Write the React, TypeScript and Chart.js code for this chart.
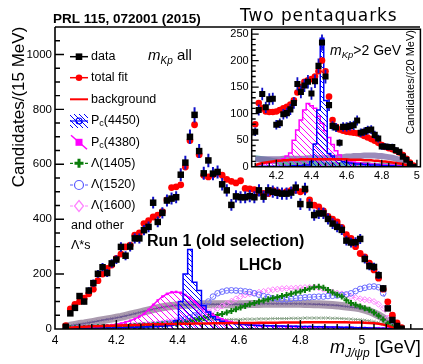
import React, { useEffect, useRef } from "react";
import { Chart, registerables } from "chart.js";
Chart.register(...registerables);

const FONT = "'Liberation Sans', Arial, Helvetica, sans-serif";

// ---------------- main plot (15 MeV bins) ----------------
const mainMass = [
  4.035, 4.05, 4.065, 4.08, 4.095, 4.11, 4.125, 4.14, 4.155, 4.17,
  4.185, 4.2, 4.215, 4.23, 4.245, 4.26, 4.275, 4.29, 4.305, 4.32,
  4.335, 4.35, 4.365, 4.38, 4.395, 4.41, 4.425, 4.44, 4.455, 4.47,
  4.485, 4.5, 4.515, 4.53, 4.545, 4.56, 4.575, 4.59, 4.605, 4.62,
  4.635, 4.65, 4.665, 4.68, 4.695, 4.71, 4.725, 4.74, 4.755, 4.77,
  4.785, 4.8, 4.815, 4.83, 4.845, 4.86, 4.875, 4.89, 4.905, 4.92,
  4.935, 4.95, 4.965, 4.98, 4.995, 5.01, 5.025, 5.04, 5.055, 5.07,
  5.085, 5.1, 5.115, 5.13,
];
const mainData = [
  8, 57, 77, 120, 100, 140, 167, 201, 225, 204,
  239, 253, 299, 267, 300, 330, 330, 360, 372, 460,
  390, 423, 468, 475, 480, 562, 606, 700, 780, 648,
  567, 614, 566, 572, 527, 505, 452, 483, 480, 480,
  484, 480, 505, 482, 505, 500, 496, 493, 493, 497,
  515, 455, 510, 452, 415, 421, 421, 401, 384, 372,
  361, 322, 315, 316, 328, 255, 229, 226, 196, 148,
  75, 33, 11, 1,
];
const mainFit = [
  12, 73, 90, 100, 112, 128, 145, 176, 200, 221,
  233, 257, 273, 299, 305, 342, 350, 384, 395, 408,
  415, 427, 470, 515, 518, 525, 590, 687, 744, 635,
  560, 554, 562, 568, 560, 545, 538, 532, 540, 512,
  510, 508, 496, 494, 493, 505, 500, 496, 500, 505,
  505, 500, 505, 470, 451, 445, 430, 410, 400, 390,
  370, 344, 330, 300, 275, 263, 240, 215, 185, 145,
  99, 50, 22, 5,
];
const mainPc4450 = [
  2, 2, 2, 3, 3, 3, 3, 4, 4, 4,
  4, 5, 5, 5, 6, 6, 7, 7, 8, 9,
  10, 11, 12, 14, 30, 100, 200, 290, 170, 140,
  85, 62, 45, 35, 28, 24, 21, 19, 17, 16,
  15, 14, 13, 13, 12, 12, 11, 11, 10, 10,
  10, 9, 9, 9, 8, 8, 8, 7, 7, 7,
  6, 6, 6, 5, 5, 5, 4, 4, 3, 3,
  2, 1, 0, 0,
];
const mainPc4380 = [
  3, 3, 4, 4, 5, 6, 7, 8, 10, 12,
  14, 17, 20, 25, 30, 37, 45, 55, 70, 88,
  104, 118, 128, 134, 135, 132, 124, 113, 100, 87,
  74, 62, 52, 43, 36, 30, 26, 22, 19, 17,
  15, 14, 13, 12, 11, 11, 10, 10, 9, 9,
  9, 8, 8, 8, 7, 7, 7, 6, 6, 6,
  5, 5, 5, 4, 4, 4, 3, 3, 3, 2,
  2, 1, 0, 0,
];
const mainL1405 = [
  2, 3, 3, 4, 4, 5, 5, 6, 6, 7,
  7, 8, 8, 9, 10, 10, 11, 12, 13, 14,
  15, 16, 17, 18, 20, 22, 25, 28, 32, 36,
  40, 44, 47, 51, 55, 60, 66, 72, 78, 84,
  90, 95, 100, 104, 108, 112, 116, 120, 124, 128,
  133, 137, 142, 147, 152, 154, 150, 142, 133, 125,
  118, 105, 95, 88, 82, 76, 70, 60, 48, 35,
  20, 8, 2, 0,
];
const mainL1520 = [
  2, 2, 3, 3, 4, 4, 5, 5, 6, 6,
  7, 7, 8, 8, 9, 10, 11, 12, 13, 14,
  16, 18, 20, 22, 25, 30, 36, 42, 50, 60,
  80, 100, 118, 130, 136, 140, 141, 140, 139, 137,
  135, 130, 125, 120, 116, 112, 110, 108, 108, 110,
  112, 113, 115, 116, 117, 118, 118, 120, 121, 122,
  124, 126, 130, 138, 146, 150, 154, 155, 152, 130,
  80, 30, 5, 0,
];
const mainL1600 = [
  2, 2, 3, 3, 4, 4, 5, 5, 6, 7,
  7, 8, 9, 10, 11, 12, 13, 14, 16, 18,
  20, 22, 25, 28, 31, 35, 39, 43, 47, 52,
  57, 62, 68, 75, 84, 93, 101, 110, 118, 124,
  128, 131, 134, 137, 140, 143, 145, 147, 148, 148,
  149, 150, 151, 152, 153, 150, 145, 140, 135, 131,
  128, 124, 118, 114, 110, 107, 105, 100, 90, 75,
  40, 10, 1, 0,
];
const mainOtherBand = [
  8, 12, 15, 18, 20, 23, 26, 29, 32, 35,
  38, 41, 44, 48, 52, 56, 60, 64, 68, 72,
  76, 79, 82, 84, 86, 87, 88, 88, 89, 89,
  90, 90, 90, 90, 90, 90, 90, 90, 90, 90,
  91, 91, 91, 92, 92, 92, 92, 92, 92, 92,
  92, 92, 91, 91, 90, 90, 89, 88, 87, 86,
  84, 82, 80, 78, 75, 70, 65, 58, 50, 40,
  28, 12, 3, 0,
];
const mainOtherLow = [
  3, 4, 5, 6, 7, 8, 9, 10, 11, 12,
  13, 14, 15, 16, 17, 18, 19, 20, 21, 22,
  23, 24, 25, 26, 27, 28, 29, 30, 31, 31,
  32, 32, 33, 33, 34, 34, 35, 35, 35, 36,
  36, 36, 37, 37, 37, 38, 38, 38, 38, 39,
  39, 39, 40, 40, 40, 40, 40, 40, 39, 39,
  38, 37, 36, 35, 34, 32, 30, 27, 23, 18,
  12, 5, 1, 0,
];
const mainBackground = [
  3, 5, 6, 7, 8, 9, 10, 10, 11, 12,
  12, 13, 13, 14, 14, 15, 15, 16, 16, 17,
  17, 17, 18, 18, 18, 19, 19, 19, 20, 20,
  20, 20, 21, 21, 21, 21, 22, 22, 22, 22,
  22, 22, 23, 23, 23, 23, 23, 24, 24, 24,
  24, 24, 25, 25, 25, 25, 25, 25, 25, 25,
  25, 25, 24, 24, 24, 23, 22, 21, 19, 16,
  12, 6, 2, 0,
];
const mainXTicks = [4, 4.2, 4.4, 4.6, 4.8, 5];
const mainYTicks = [0, 200, 400, 600, 800, 1000];

// ---------------- inset (20 MeV bins, m_Kp > 2 GeV) ----------------
const insetMass = [
  4.08, 4.1, 4.12, 4.14, 4.16, 4.18, 4.2, 4.22, 4.24, 4.26,
  4.28, 4.3, 4.32, 4.34, 4.36, 4.38, 4.4, 4.42, 4.44, 4.46,
  4.48, 4.5, 4.52, 4.54, 4.56, 4.58, 4.6, 4.62, 4.64, 4.66,
  4.68, 4.7, 4.72, 4.74, 4.76, 4.78, 4.8, 4.82, 4.84, 4.86,
  4.88, 4.9, 4.92, 4.94, 4.96, 4.98,
];
const insetData = [
  66, 107, 137, 112, 127, 128, 79, 82, 99, 101,
  108, 120, 156, 141, 153, 160, 138, 161, 190, 234,
  170, 116, 77, 74, 45, 75, 75, 77, 78, 87,
  64, 66, 69, 70, 60, 53, 38, 38, 37, 37,
  31, 28, 19, 13, 5, 0,
];
const insetFit = [
  80, 120, 110, 104, 103, 103, 104, 107, 110, 113,
  117, 125, 140, 150, 160, 163, 165, 170, 180, 200,
  180, 132, 88, 75, 70, 68, 66, 65, 64, 63,
  61, 58, 55, 52, 49, 45, 41, 37, 35, 33,
  30, 27, 22, 15, 8, 2,
];
const insetPc4450 = [
  1, 1, 1, 1, 1, 1, 1, 1, 1, 1,
  1, 2, 2, 2, 3, 3, 10, 43, 107, 242,
  125, 25, 20, 15, 12, 10, 8, 7, 6, 5,
  5, 4, 4, 3, 3, 3, 2, 2, 2, 2,
  1, 1, 1, 1, 0, 0,
];
const insetPc4380 = [
  3, 4, 5, 6, 7, 8, 10, 12, 15, 20,
  26, 50, 69, 88, 107, 119, 115, 110, 95, 82,
  68, 55, 42, 30, 22, 15, 12, 10, 9, 8,
  7, 6, 6, 5, 5, 4, 4, 3, 3, 3,
  2, 2, 1, 1, 0, 0,
];
const insetBackground = [
  3, 5, 7, 8, 9, 10, 11, 11, 12, 12,
  13, 13, 13, 14, 14, 14, 14, 14, 14, 14,
  14, 14, 14, 14, 14, 14, 14, 13, 13, 13,
  13, 12, 12, 12, 11, 11, 10, 10, 9, 8,
  7, 6, 5, 3, 1, 0,
];
const insetOtherBand = [
  14, 14, 14, 14, 14, 14, 14, 14, 15, 15,
  15, 15, 15, 15, 15, 16, 16, 16, 16, 16,
  16, 17, 17, 17, 18, 18, 19, 19, 20, 20,
  20, 21, 21, 21, 21, 20, 20, 19, 18, 17,
  15, 13, 10, 7, 3, 0,
];
const insetTeal = [
  16, 15, 14, 13, 12, 11, 10, 9, 8, 8,
  7, 7, 6, 6, 6, 5, 5, 5, 5, 4,
  4, 4, 4, 4, 3, 3, 3, 3, 3, 3,
  3, 3, 3, 2, 2, 2, 2, 2, 2, 2,
  1, 1, 1, 1, 0, 0,
];
const insetXTicks = [4.2, 4.4, 4.6, 4.8, 5];
const insetYTicks = [0, 50, 100, 150, 200, 250];

// ---------------- helpers ----------------
function pts(xs: number[], ys: number[]) {
  return xs.map((x, i) => ({ x, y: ys[i] }));
}

function makeHatch(color: string, size: number, width: number) {
  const c = document.createElement("canvas");
  c.width = size;
  c.height = size;
  const g = c.getContext("2d")!;
  g.strokeStyle = color;
  g.lineWidth = width;
  g.beginPath();
  for (let k = -1; k <= 1; k++) {
    g.moveTo(k * size, 0);
    g.lineTo(k * size + size, size);
  }
  g.stroke();
  return g.createPattern(c, "repeat")!;
}

type Part = { t: string; f: string; dy?: number };
function drawRich(ctx: CanvasRenderingContext2D, x: number, y: number, parts: Part[]) {
  let cx = x;
  for (const p of parts) {
    ctx.font = p.f;
    ctx.fillText(p.t, cx, y + (p.dy || 0));
    cx += ctx.measureText(p.t).width;
  }
}

function fmt(v: number) {
  return String(Math.round(v * 10) / 10);
}

function range(a: number, b: number, s: number) {
  const out: number[] = [];
  for (let v = a; v <= b + 1e-9; v += s) out.push(Math.round(v * 1000) / 1000);
  return out;
}

function axesPlugin(id: string, o: {
  xMinor: number[]; xMajor: number[]; yMinor: number[]; yMajor: number[];
  major: number; minor: number; box: boolean; lw: number; topTo?: number;
}) {
  return {
    id,
    afterDraw(chart: any) {
      const { ctx, chartArea: a, scales } = chart;
      const x = scales.x, y = scales.y;
      ctx.save();
      ctx.strokeStyle = "#000";
      ctx.lineWidth = o.lw;
      ctx.beginPath();
      ctx.moveTo(a.left, a.top);
      ctx.lineTo(a.left, a.bottom);
      ctx.lineTo(a.right + (o.box ? 0 : 3), a.bottom);
      if (o.box) {
        ctx.lineTo(a.right, a.top);
        ctx.closePath();
      } else {
        ctx.moveTo(a.left, a.top);
        ctx.lineTo(o.topTo ?? a.right, a.top);
      }
      ctx.stroke();
      ctx.lineWidth = o.lw * 0.9;
      ctx.beginPath();
      for (const v of o.xMinor) {
        const px = x.getPixelForValue(v);
        if (px < a.left + 1 || px > a.right - 1) continue;
        const len = o.xMajor.some((m) => Math.abs(m - v) < 1e-6) ? o.major : o.minor;
        ctx.moveTo(px, a.bottom);
        ctx.lineTo(px, a.bottom - len);
      }
      for (const v of o.yMinor) {
        const py = y.getPixelForValue(v);
        if (py < a.top + 1 || py > a.bottom - 1) continue;
        const len = o.yMajor.some((m) => Math.abs(m - v) < 1e-6) ? o.major : o.minor;
        ctx.moveTo(a.left, py);
        ctx.lineTo(a.left + len, py);
      }
      ctx.stroke();
      ctx.restore();
    },
  };
}

function errorBarPlugin(id: string, values: number[], color: string, width: number) {
  return {
    id,
    beforeDatasetDraw(chart: any, args: any) {
      if (args.index !== 0) return;
      const { ctx, chartArea: a } = chart;
      const meta = chart.getDatasetMeta(0);
      const y = chart.scales.y;
      ctx.save();
      ctx.beginPath();
      ctx.rect(a.left, a.top, a.right - a.left, a.bottom - a.top);
      ctx.clip();
      ctx.strokeStyle = color;
      ctx.lineWidth = width;
      ctx.beginPath();
      meta.data.forEach((el: any, i: number) => {
        const v = values[i];
        const e = Math.sqrt(Math.max(v, 1));
        ctx.moveTo(el.x, y.getPixelForValue(v + e));
        ctx.lineTo(el.x, y.getPixelForValue(Math.max(v - e, 0)));
      });
      ctx.stroke();
      ctx.restore();
    },
  };
}

function mainConfig(): any {
  const blueHatch = makeHatch("#0000ff", 5, 1);
  const magHatch = makeHatch("#ff00ff", 6, 1);
  const textPlugin = {
    id: "mainText",
    afterDraw(chart: any) {
      const ctx: CanvasRenderingContext2D = chart.ctx;
      ctx.save();
      ctx.fillStyle = "#000";
      ctx.textBaseline = "alphabetic";
      ctx.textAlign = "left";
      ctx.font = `bold 13.5px ${FONT}`;
      ctx.fillText("PRL 115, 072001 (2015)", 53, 22.5);
      ctx.font = `17px 'DejaVu Sans', sans-serif`;
      (ctx as any).letterSpacing = "0.9px";
      ctx.fillText("Two pentaquarks", 240, 21);
      (ctx as any).letterSpacing = "0px";
      // m_Kp all
      drawRich(ctx, 148, 60, [
        { t: "m", f: `italic 15px ${FONT}` },
        { t: "Kp", f: `italic 10px ${FONT}`, dy: 3.5 },
        { t: " all", f: `15px ${FONT}` },
      ]);
      ctx.font = `bold 16px ${FONT}`;
      ctx.fillText("Run 1 (old selection)", 147, 246);
      ctx.fillText("LHCb", 239, 270);
      // x title
      drawRich(ctx, 330, 353, [
        { t: "m", f: `italic 18px ${FONT}` },
        { t: "J/\u03c8p", f: `italic 12px ${FONT}`, dy: 4 },
        { t: " [GeV]", f: `18px ${FONT}` },
      ]);
      // y title
      ctx.save();
      ctx.translate(19, 107);
      ctx.rotate(-Math.PI / 2);
      ctx.textAlign = "center";
      ctx.textBaseline = "middle";
      ctx.font = `17px ${FONT}`;
      ctx.fillText("Candidates/(15 MeV)", 0, 0);
      ctx.restore();

      // legend
      const lf = `12.5px ${FONT}`;
      const rows = [56.7, 77.7, 99.3, 121, 142.3, 163.3, 185, 206];
      const x0 = 70, x1 = 88, xc = 79, tx = 91;
      ctx.textBaseline = "middle";
      // data
      ctx.strokeStyle = "#000"; ctx.lineWidth = 1.5;
      ctx.beginPath(); ctx.moveTo(x0, rows[0]); ctx.lineTo(x1, rows[0]); ctx.stroke();
      ctx.fillStyle = "#000"; ctx.fillRect(xc - 3.3, rows[0] - 3.3, 6.6, 6.6);
      // total fit
      ctx.strokeStyle = "#ff0000";
      ctx.beginPath(); ctx.moveTo(x0, rows[1]); ctx.lineTo(x1, rows[1]); ctx.stroke();
      ctx.fillStyle = "#ff0000"; ctx.beginPath(); ctx.arc(xc, rows[1], 3.3, 0, Math.PI * 2); ctx.fill();
      // background
      ctx.lineWidth = 2;
      ctx.beginPath(); ctx.moveTo(x0, rows[2]); ctx.lineTo(x1, rows[2]); ctx.stroke();
      // Pc(4450)
      ctx.fillStyle = blueHatch;
      ctx.fillRect(x0, rows[3] - 7, x1 - x0, 14);
      ctx.strokeStyle = "#0000ff"; ctx.lineWidth = 1.2;
      ctx.beginPath(); ctx.moveTo(x0, rows[3]); ctx.lineTo(x1, rows[3]); ctx.stroke();
      ctx.beginPath(); ctx.arc(xc, rows[3], 3, 0, Math.PI * 2); ctx.stroke();
      // Pc(4380)
      ctx.strokeStyle = "#ff00ff"; ctx.lineWidth = 1.5;
      ctx.beginPath(); ctx.moveTo(x0 + 1, rows[4] - 7); ctx.lineTo(x1 - 1, rows[4] + 7); ctx.stroke();
      ctx.fillStyle = "#ff00ff"; ctx.fillRect(xc - 3.5, rows[4] - 3.5, 7, 7);
      // L1405
      ctx.setLineDash([3, 2]);
      ctx.strokeStyle = "#0b7d0b"; ctx.lineWidth = 1.2;
      ctx.beginPath(); ctx.moveTo(x0, rows[5]); ctx.lineTo(x1, rows[5]); ctx.stroke();
      ctx.strokeStyle = "#5a5aff";
      ctx.beginPath(); ctx.moveTo(x0, rows[6]); ctx.lineTo(x1, rows[6]); ctx.stroke();
      ctx.strokeStyle = "#ff80ff";
      ctx.beginPath(); ctx.moveTo(x0, rows[7]); ctx.lineTo(x1, rows[7]); ctx.stroke();
      ctx.setLineDash([]);
      ctx.strokeStyle = "#0b7d0b"; ctx.lineWidth = 3;
      ctx.beginPath();
      ctx.moveTo(xc - 4.5, rows[5]); ctx.lineTo(xc + 4.5, rows[5]);
      ctx.moveTo(xc, rows[5] - 4.5); ctx.lineTo(xc, rows[5] + 4.5);
      ctx.stroke();
      ctx.lineWidth = 1.2;
      ctx.fillStyle = "#fff";
      ctx.strokeStyle = "#5a5aff";
      ctx.beginPath(); ctx.arc(xc, rows[6], 4.5, 0, Math.PI * 2); ctx.fill(); ctx.stroke();
      ctx.strokeStyle = "#ff80ff";
      ctx.beginPath();
      ctx.moveTo(xc, rows[7] - 5.5); ctx.lineTo(xc + 4.5, rows[7]); ctx.lineTo(xc, rows[7] + 5.5); ctx.lineTo(xc - 4.5, rows[7]); ctx.closePath();
      ctx.fill(); ctx.stroke();

      ctx.fillStyle = "#000";
      ctx.font = lf;
      ctx.fillText("data", tx, rows[0]);
      ctx.fillText("total fit", tx, rows[1]);
      ctx.fillText("background", tx, rows[2]);
      drawRich(ctx, tx, rows[3], [
        { t: "P", f: lf }, { t: "c", f: `9px ${FONT}`, dy: 3 }, { t: "(4450)", f: lf },
      ]);
      drawRich(ctx, tx, rows[4], [
        { t: "P", f: lf }, { t: "c", f: `9px ${FONT}`, dy: 3 }, { t: "(4380)", f: lf },
      ]);
      ctx.font = lf;
      ctx.fillText("\u039b(1405)", tx, rows[5]);
      ctx.fillText("\u039b(1520)", tx, rows[6]);
      ctx.fillText("\u039b(1600)", tx, rows[7]);
      ctx.fillText("and other", 71, 226);
      ctx.fillText("\u039b*s", 71, 246);
      ctx.restore();
    },
  };

  return {
    type: "line",
    data: {
      datasets: [
        {
          label: "data", data: pts(mainMass, mainData), showLine: false,
          pointStyle: "rect", pointRadius: 4.6, pointBackgroundColor: "#000", pointBorderWidth: 0,
        },
        {
          label: "total fit", data: pts(mainMass, mainFit), showLine: false,
          pointStyle: "circle", pointRadius: 3.4, pointBackgroundColor: "#ff0000", pointBorderWidth: 0,
        },
        {
          label: "background", data: pts(mainMass, mainBackground), borderColor: "#ff0000",
          borderWidth: 2.5, pointRadius: 0,
        },
        {
          label: "Pc(4450)", data: pts(mainMass, mainPc4450), stepped: "middle", borderColor: "#0000ff",
          borderWidth: 1.5, pointRadius: 0, fill: "origin", backgroundColor: blueHatch,
        },
        {
          label: "Pc(4380)", data: pts(mainMass, mainPc4380), borderColor: "#ff00ff", borderWidth: 1.5,
          pointStyle: "rect", pointRadius: 1.8, pointBackgroundColor: "#ff00ff", pointBorderWidth: 0,
          fill: "origin", backgroundColor: magHatch,
        },
        {
          label: "L1405", data: pts(mainMass, mainL1405), borderColor: "#0b7d0b", borderWidth: 1,
          borderDash: [3, 2], pointStyle: "cross", pointRadius: 3, pointBorderWidth: 2,
          pointBorderColor: "#0b7d0b",
        },
        {
          label: "L1520", data: pts(mainMass, mainL1520), borderColor: "#6b6bff", borderWidth: 1,
          borderDash: [3, 2], pointStyle: "circle", pointRadius: 2.8, pointBorderWidth: 1,
          pointBorderColor: "#6b6bff", pointBackgroundColor: "rgba(0,0,0,0)",
        },
        {
          label: "L1600", data: pts(mainMass, mainL1600), borderColor: "#ff80ff", borderWidth: 1,
          borderDash: [3, 2], pointStyle: "rectRot", pointRadius: 3, pointBorderWidth: 1,
          pointBorderColor: "#ff80ff", pointBackgroundColor: "rgba(0,0,0,0)",
        },
        {
          label: "other low", data: pts(mainMass, mainOtherLow), borderColor: "#8aa48a", borderWidth: 1,
          pointStyle: "crossRot", pointRadius: 2.2, pointBorderWidth: 1, pointBorderColor: "#8aa48a",
        },
        {
          label: "other line", data: pts(mainMass, mainOtherBand), borderColor: "rgba(100,80,140,0.9)",
          borderWidth: 1.2, pointStyle: "crossRot", pointRadius: 1.8, pointBorderWidth: 1,
          pointBorderColor: "rgba(110,90,150,0.9)",
        },
        {
          label: "other band", data: pts(mainMass, mainOtherBand), borderColor: "rgba(150,130,155,0.8)",
          borderWidth: 8, pointRadius: 0,
        },
      ],
    },
    options: {
      animation: false,
      responsive: false,
      devicePixelRatio: 1,
      events: [],
      layout: { padding: { top: 27, right: 3, left: 0, bottom: 0 }, autoPadding: false },
      plugins: { legend: { display: false }, tooltip: { enabled: false }, colors: { enabled: false } },
      scales: {
        x: {
          type: "linear", min: 4, max: 5.19,
          afterFit: (s: any) => { s.height = 35; },
          afterBuildTicks: (s: any) => { s.ticks = mainXTicks.map((v) => ({ value: v })); },
          grid: { display: false, drawTicks: false }, border: { display: false },
          ticks: { font: { family: FONT, size: 12 }, color: "#000", padding: 4, maxRotation: 0, autoSkip: false, callback: (v: any) => fmt(Number(v)) },
        },
        y: {
          type: "linear", min: 0, max: 1100,
          afterFit: (s: any) => { s.width = 55; },
          afterBuildTicks: (s: any) => { s.ticks = mainYTicks.map((v) => ({ value: v })); },
          grid: { display: false, drawTicks: false }, border: { display: false },
          ticks: { font: { family: FONT, size: 11.5 }, color: "#000", padding: 3, autoSkip: false, callback: (v: any) => String(v) },
        },
      },
    },
    plugins: [
      errorBarPlugin("mainErr", mainData, "#1010c8", 2),
      axesPlugin("mainAxes", {
        xMinor: range(4, 5.2, 0.04), xMajor: mainXTicks, yMinor: range(0, 1100, 50), yMajor: mainYTicks,
        major: 9, minor: 5, box: false, lw: 1.6,
      }),
      textPlugin,
    ],
  };
}

function insetConfig(): any {
  const blueHatch = makeHatch("#0000ff", 5, 1);
  const magHatch = makeHatch("#ff00ff", 6, 1);
  const bgPlugin = {
    id: "insetBg",
    beforeDraw(chart: any) {
      const { ctx, chartArea: a } = chart;
      ctx.save();
      ctx.fillStyle = "#fff";
      ctx.fillRect(a.left, a.top, a.right - a.left, a.bottom - a.top);
      ctx.restore();
    },
  };
  const textPlugin = {
    id: "insetText",
    afterDraw(chart: any) {
      const ctx: CanvasRenderingContext2D = chart.ctx;
      ctx.save();
      ctx.fillStyle = "#000";
      ctx.textBaseline = "alphabetic";
      drawRich(ctx, 330, 55, [
        { t: "m", f: `italic 14px ${FONT}` },
        { t: "Kp", f: `italic 9.5px ${FONT}`, dy: 3 },
        { t: ">2 GeV", f: `14px ${FONT}` },
      ]);
      ctx.translate(411, 82);
      ctx.rotate(-Math.PI / 2);
      ctx.textAlign = "center";
      ctx.textBaseline = "middle";
      ctx.font = `11px ${FONT}`;
      ctx.fillText("Candidates/(20 MeV)", 0, 0);
      ctx.restore();
    },
  };
  return {
    type: "line",
    data: {
      datasets: [
        {
          label: "data", data: pts(insetMass, insetData), showLine: false,
          pointStyle: "rect", pointRadius: 4.3, pointBackgroundColor: "#000", pointBorderWidth: 0,
        },
        {
          label: "fit", data: pts(insetMass, insetFit), showLine: false,
          pointStyle: "circle", pointRadius: 3.3, pointBackgroundColor: "#ff0000", pointBorderWidth: 0,
        },
        {
          label: "background", data: pts(insetMass, insetBackground), borderColor: "#ff0000",
          borderWidth: 2.5, pointRadius: 0,
        },
        {
          label: "Pc(4450)", data: pts(insetMass, insetPc4450), stepped: "middle", borderColor: "#0000ff",
          borderWidth: 1.5, pointRadius: 0, fill: "origin", backgroundColor: blueHatch,
        },
        {
          label: "Pc(4380)", data: pts(insetMass, insetPc4380), stepped: "middle", borderColor: "#ff00ff",
          borderWidth: 1.5, pointRadius: 0, fill: "origin", backgroundColor: magHatch,
        },
        {
          label: "other", data: pts(insetMass, insetOtherBand), borderColor: "rgba(130,110,170,0.8)",
          borderWidth: 6, pointRadius: 0,
        },
        {
          label: "teal", data: pts(insetMass, insetTeal), borderColor: "rgba(60,150,150,0.8)",
          borderWidth: 6, pointRadius: 0,
        },
      ],
    },
    options: {
      animation: false,
      responsive: false,
      devicePixelRatio: 1,
      events: [],
      layout: { padding: { top: 29.3, right: 2, left: 0, bottom: 0 }, autoPadding: false },
      plugins: { legend: { display: false }, tooltip: { enabled: false }, colors: { enabled: false } },
      scales: {
        x: {
          type: "linear", min: 4.06, max: 5.02,
          afterFit: (s: any) => { s.height = 197.3; },
          afterBuildTicks: (s: any) => { s.ticks = insetXTicks.map((v) => ({ value: v })); },
          grid: { display: false, drawTicks: false }, border: { display: false },
          ticks: { font: { family: FONT, size: 11 }, color: "#000", padding: 3, maxRotation: 0, autoSkip: false, callback: (v: any) => fmt(Number(v)) },
        },
        y: {
          type: "linear", min: 0, max: 259,
          afterFit: (s: any) => { s.width = 251.7; },
          afterBuildTicks: (s: any) => { s.ticks = insetYTicks.map((v) => ({ value: v })); },
          grid: { display: false, drawTicks: false }, border: { display: false },
          ticks: { font: { family: FONT, size: 11 }, color: "#000", padding: 3, autoSkip: false, callback: (v: any) => String(v) },
        },
      },
    },
    plugins: [
      bgPlugin,
      errorBarPlugin("insetErr", insetData, "#1010c8", 1.8),
      axesPlugin("insetAxes", {
        xMinor: range(4.08, 5.0, 0.04), xMajor: insetXTicks, yMinor: range(0, 250, 10), yMajor: insetYTicks,
        major: 7, minor: 4, box: true, lw: 1.5,
      }),
      textPlugin,
    ],
  };
}

export default function App() {
  const mainRef = useRef<HTMLCanvasElement>(null);
  const insetRef = useRef<HTMLCanvasElement>(null);
  useEffect(() => {
    const c1 = new Chart(mainRef.current!, mainConfig());
    const c2 = new Chart(insetRef.current!, insetConfig());
    return () => {
      c1.destroy();
      c2.destroy();
    };
  }, []);
  return (
    <div style={{ position: "fixed", left: 0, top: 0, width: 423, height: 364, background: "#fff", overflow: "hidden" }}>
      <canvas ref={mainRef} width={423} height={364} style={{ position: "absolute", left: 0, top: 0 }} />
      <canvas ref={insetRef} width={423} height={364} style={{ position: "absolute", left: 0, top: 0 }} />
    </div>
  );
}
